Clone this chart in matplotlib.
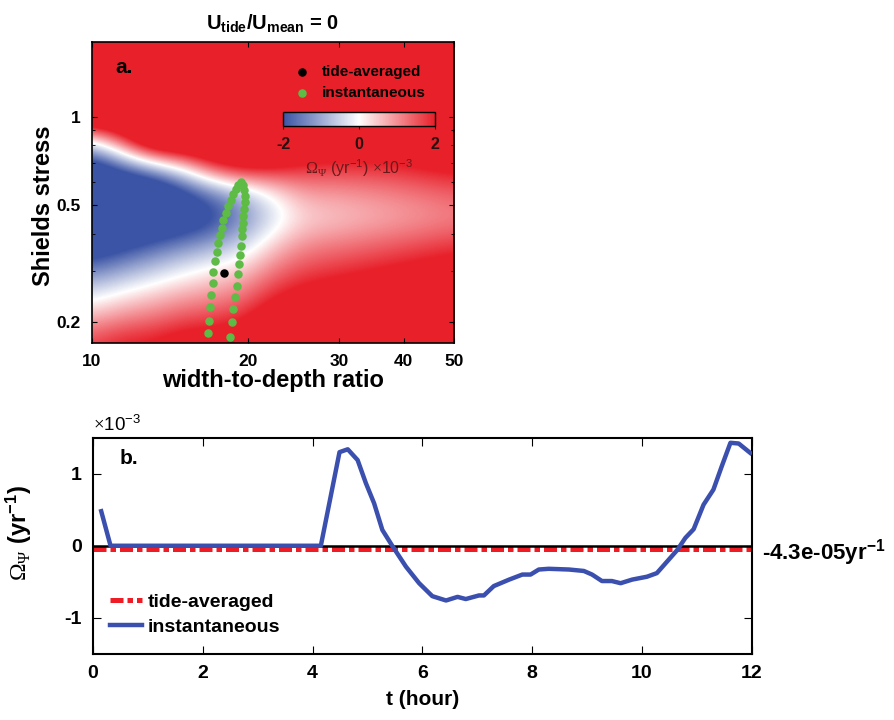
import matplotlib
matplotlib.use("Agg")
import matplotlib.pyplot as plt
import numpy as np
from matplotlib.colors import LinearSegmentedColormap
from matplotlib.ticker import FixedLocator, FixedFormatter, NullFormatter

# === DATA ===
# panel a: growth-rate field (x1e-3 yr^-1),
# on a grid evenly spaced in log(ratio) and log(shields)
ratio_grid = [10, 11.44, 13.08, 14.95, 17.10, 19.56, 22.36, 25.57, 29.24, 33.44, 38.24, 43.73, 50]
shields_grid = [0.17, 0.207, 0.252, 0.307, 0.375, 0.456, 0.556, 0.677, 0.825, 1.005, 1.224, 1.491, 1.8]
omega_field = [
    [1.72, 2.08, 2.14, 2.45, 2.5, 2.67, 3.39, 3.47, 3.5, 3.5, 3.5, 3.5, 3.5],
    [0.72, 1.08, 1.26, 1.58, 1.7, 1.92, 2.64, 2.85, 3.0, 3.15, 3.3, 3.45, 3.5],
    [-0.36, 0.07, 0.38, 0.69, 0.89, 1.16, 1.88, 2.22, 2.37, 2.52, 2.67, 2.82, 2.97],
    [-1.61, -1.16, -0.71, -0.26, 0.09, 0.41, 1.13, 1.6, 1.75, 1.9, 2.05, 2.2, 2.35],
    [-2.87, -2.42, -1.97, -1.52, -1.12, -0.57, 0.38, 0.97, 1.12, 1.27, 1.42, 1.57, 1.72],
    [-3.5, -3.5, -3.2, -2.9, -2.3, -1.4, -0.4, 0.34, 0.49, 0.64, 0.79, 0.94, 1.09],
    [-3.5, -3.5, -3.45, -2.45, -1.49, -0.76, 0.12, 0.85, 0.91, 1.01, 1.13, 1.28, 1.43],
    [-2.94, -1.94, -0.94, 0.15, 1.72, 2.34, 2.13, 1.86, 1.8, 1.82, 1.88, 2.03, 2.18],
    [-0.43, 1.43, 3.5, 3.5, 3.5, 3.5, 3.5, 2.86, 2.68, 2.62, 2.63, 2.78, 2.93],
    [3.5, 3.5, 3.5, 3.5, 3.5, 3.5, 3.5, 3.5, 3.5, 3.42, 3.38, 3.5, 3.5],
    [3.5, 3.5, 3.5, 3.5, 3.5, 3.5, 3.5, 3.5, 3.5, 3.5, 3.5, 3.5, 3.5],
    [3.5, 3.5, 3.5, 3.5, 3.5, 3.5, 3.5, 3.5, 3.5, 3.5, 3.5, 3.5, 3.5],
    [3.5, 3.5, 3.5, 3.5, 3.5, 3.5, 3.5, 3.5, 3.5, 3.5, 3.5, 3.5, 3.5],
]

# tidal loop of instantaneous points
inst_ratio = [16.77, 16.82, 16.90, 16.98, 17.11, 17.15, 17.28, 17.41, 17.54, 17.67,
              17.80, 17.93, 18.13, 18.34, 18.55, 18.75, 18.97, 19.16, 19.37,
              19.54, 19.66, 19.72, 19.75, 19.68, 19.60, 19.54, 19.49, 19.46, 19.40,
              19.31, 19.25, 19.16, 19.03, 18.88, 18.75, 18.61, 18.47]
inst_shields = [0.184, 0.202, 0.225, 0.247, 0.272, 0.297, 0.323, 0.347, 0.371, 0.395,
                0.420, 0.445, 0.472, 0.499, 0.523, 0.548, 0.569, 0.588, 0.599,
                0.588, 0.566, 0.540, 0.512, 0.487, 0.459, 0.436, 0.414, 0.393, 0.365,
                0.340, 0.315, 0.291, 0.266, 0.243, 0.222, 0.200, 0.178]
avg_ratio = [18.0]
avg_shields = [0.294]

# panel b: growth rate through the tide (x1e-3 yr^-1)
t_hour = [0.15, 0.32, 4.15, 4.49, 4.64, 4.82, 4.97, 5.12, 5.27, 5.45, 5.70, 5.94,
          6.18, 6.43, 6.64, 6.79, 7.03, 7.12, 7.30, 7.58, 7.82, 7.97, 8.12, 8.30,
          8.67, 8.94, 9.09, 9.27, 9.45, 9.61, 9.82, 10.09, 10.27, 10.49, 10.64,
          10.79, 10.94, 11.12, 11.30, 11.45, 11.61, 11.76, 11.97]
omega_inst = [0.48, 0.0, 0.0, 1.30, 1.34, 1.19, 0.87, 0.59, 0.22, 0.0, -0.29, -0.52,
              -0.70, -0.76, -0.71, -0.74, -0.69, -0.69, -0.56, -0.47, -0.40, -0.40,
              -0.33, -0.32, -0.33, -0.35, -0.40, -0.49, -0.49, -0.52, -0.47, -0.43,
              -0.38, -0.19, -0.06, 0.11, 0.23, 0.57, 0.78, 1.10, 1.43, 1.42, 1.29]
omega_avg = -0.043
t_span = [0, 12]

# === STYLE ===
plt.rcParams["font.family"] = ["Liberation Sans", "DejaVu Sans"]
plt.rcParams["axes.unicode_minus"] = False
plt.rcParams["mathtext.fontset"] = "custom"
plt.rcParams["mathtext.rm"] = "Liberation Serif"
plt.rcParams["mathtext.sf"] = "Liberation Sans"
plt.rcParams["mathtext.bf"] = "Liberation Sans:bold"
plt.rcParams["mathtext.it"] = "Liberation Sans:italic"

RED = "#e8202a"
BLUE = "#3b54a5"
LINE_BLUE = "#3a4fae"
GREEN = "#5dbb46"

cmap = LinearSegmentedColormap.from_list("bwr_matlab", [BLUE, "white", RED])

fig = plt.figure(figsize=(8.94, 7.2), dpi=100)
pos_a = [0.1029, 0.5236, 0.405, 0.418]

# === PANEL A ===
# field drawn in log10 coordinates on a plain axes underneath
lx = np.log10(ratio_grid)
ly = np.log10(shields_grid)
hx = (lx[-1] - lx[0]) / (len(lx) - 1) / 2
hy = (ly[-1] - ly[0]) / (len(ly) - 1) / 2
ax_img = fig.add_axes(pos_a)
ax_img.imshow(np.array(omega_field), cmap=cmap, vmin=-2, vmax=2, origin="lower",
              extent=(lx[0] - hx, lx[-1] + hx, ly[0] - hy, ly[-1] + hy),
              interpolation="bicubic", interpolation_stage="data", aspect="auto")
ax_img.set_xlim(lx[0], lx[-1])
ax_img.set_ylim(ly[0], ly[-1])
ax_img.axis("off")

ax1 = fig.add_axes(pos_a)
ax1.set_facecolor("none")
ax1.set_xscale("log")
ax1.set_yscale("log")
ax1.set_xlim(10, 50)
ax1.set_ylim(0.17, 1.8)

ax1.scatter(inst_ratio, inst_shields, s=26, color=GREEN, zorder=3, label="instantaneous")
ax1.scatter(avg_ratio, avg_shields, s=26, color="black", zorder=4, label="tide-averaged")

ax1.xaxis.set_major_locator(FixedLocator([10, 20, 30, 40, 50]))
ax1.xaxis.set_major_formatter(FixedFormatter(["10", "20", "30", "40", "50"]))
ax1.xaxis.set_minor_formatter(NullFormatter())
ax1.yaxis.set_major_locator(FixedLocator([0.2, 0.5, 1]))
ax1.yaxis.set_major_formatter(FixedFormatter(["0.2", "0.5", "1"]))
ax1.yaxis.set_minor_formatter(NullFormatter())
ax1.tick_params(which="both", direction="in", top=True, right=True, labelsize=12.5, pad=8)
for lab in ax1.get_xticklabels() + ax1.get_yticklabels():
    lab.set_fontweight("bold")
for sp in ax1.spines.values():
    sp.set_linewidth(1.2)

ax1.set_xlabel("width-to-depth ratio", fontsize=17, fontweight="bold", labelpad=0)
ax1.set_ylabel("Shields stress", fontsize=17, fontweight="bold")
ax1.yaxis.set_label_coords(-0.102, 0.455)
ax1.set_title(r"U$_\mathbf{tide}$/U$_\mathbf{mean}$ = 0", fontsize=14.5, fontweight="bold", pad=9)
ax1.text(0.064, 0.915, "a.", transform=ax1.transAxes, fontsize=15, fontweight="bold",
         va="center", ha="left")

handles, labels = ax1.get_legend_handles_labels()
ax1.legend(handles[::-1], labels[::-1], loc="upper left", bbox_to_anchor=(0.5, 0.968),
           frameon=False, handletextpad=0.3, labelspacing=0.45,
           prop={"weight": "bold", "size": 11})

# colour bar inside panel a
cax = fig.add_axes([0.3166, 0.825, 0.170, 0.0194])
sm = plt.cm.ScalarMappable(cmap=cmap, norm=plt.Normalize(-2, 2))
cb = fig.colorbar(sm, cax=cax, orientation="horizontal", ticks=[-2, 0, 2])
cb.ax.tick_params(labelsize=11.5, length=2, pad=6, colors="#2a1010")
for lab in cb.ax.get_xticklabels():
    lab.set_fontweight("bold")
cb.outline.set_linewidth(1.0)
cb.set_label(r"$\Omega_\Psi$ (yr$^{\mathsf{-1}}$) $\times$10$^{\mathsf{-3}}$",
             fontsize=11.5, color="#6a1a1a", labelpad=4)

# === PANEL B ===
ax2 = fig.add_axes([0.104, 0.092, 0.737, 0.300])
ax2.plot(t_span, [omega_avg, omega_avg], color="#ee1c24", lw=3.6,
         linestyle=(0, (2.6, 0.8, 1.1, 0.8)), label="tide-averaged", zorder=2)
ax2.plot(t_span, [0, 0], color="black", lw=1.8, zorder=3)
ax2.plot(t_hour, omega_inst, color=LINE_BLUE, lw=3.2, label="instantaneous", zorder=4)
ax2.set_xlim(0, 12)
ax2.set_ylim(-1.5, 1.5)
ax2.set_xticks(range(0, 13, 2))
ax2.set_yticks([-1, 0, 1])
ax2.tick_params(direction="in", top=True, right=True, labelsize=14, pad=8, length=6)
for lab in ax2.get_xticklabels() + ax2.get_yticklabels():
    lab.set_fontweight("bold")
for sp in ax2.spines.values():
    sp.set_linewidth(1.5)

ax2.set_xlabel("t (hour)", fontsize=15, fontweight="bold", labelpad=6)
ax2.set_ylabel(r"$\Omega_\Psi$ (yr$^{\mathbf{-1}}$)", fontsize=17, fontweight="bold")
ax2.yaxis.set_label_coords(-0.09, 0.56)
ax2.text(0.0, 1.015, r"$\times$10$^{\mathsf{-3}}$", transform=ax2.transAxes, fontsize=13.5,
         ha="left", va="bottom")
ax2.text(0.041, 0.905, "b.", transform=ax2.transAxes, fontsize=15, fontweight="bold",
         va="center", ha="left")
ax2.text(1.015, 0.47, r"-4.3e-05yr$^{\mathbf{-1}}$", transform=ax2.transAxes,
         fontsize=16, fontweight="bold", ha="left", va="center")
ax2.legend(loc="lower left", bbox_to_anchor=(0.0, 0.0), frameon=False, handlelength=1.6,
           handletextpad=0.3, labelspacing=0.4, prop={"weight": "bold", "size": 14})

fig.savefig("out.png", dpi=100)
